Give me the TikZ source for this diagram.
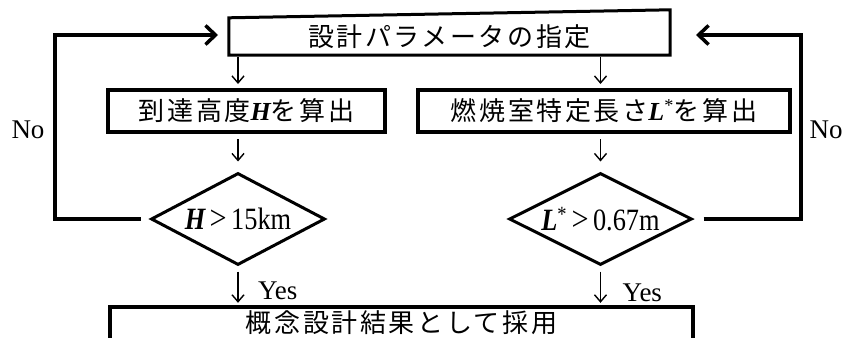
\documentclass[tikz,border=0pt]{standalone}
\usepackage{fontspec}
\usepackage{graphicx}
\setmainfont{Liberation Serif}
\newfontfamily\jp[LetterSpace=10]{Noto Sans CJK JP}
\usetikzlibrary{arrows.meta,shapes.geometric,calc}
\newcommand{\gtsym}{\,\scalebox{1.15}[1.1]{>}\,}
\tikzset{
  lat/.style={font=\fontsize{27}{30}\selectfont},
  jpf/.style={font=\fontsize{26}{30}\selectfont\jp},
  thickbox/.style={draw,line width=4pt,inner sep=0pt},
  plainbox/.style={inner sep=0pt},
  dia/.style={diamond,draw,line width=3pt,inner sep=0pt,aspect=1.9,font=\fontsize{31}{33}\selectfont},
  sarr/.style={line width=1.4pt,-{Straight Barb[length=7pt,width=12pt,line width=1.4pt]}},
  big/.style={line width=3.5pt,-{Straight Barb[length=10pt,width=19pt,line width=3.5pt]}},
}
\begin{document}
\begin{tikzpicture}[x=1pt,y=-1pt]
\useasboundingbox (0,0) rectangle (845,337);

% top box (slanted top edge)
\node[plainbox,jpf,minimum width=441pt,minimum height=37pt] (top) at (449.5,36.5) {設計パラメータの指定};
\draw[line width=3pt,line join=miter] (top.south west) -- (top.north west) -- ([yshift=8pt]top.north east) -- (top.south east) -- cycle;

% process boxes
\node[thickbox,jpf,minimum width=277pt,minimum height=42pt] (b2) at (246.5,111) {到達高度{\rmfamily\bfseries\itshape H}を算出};
\node[thickbox,jpf,minimum width=372pt,minimum height=42pt] (b3) at (604,111) {燃焼室特定長さ{\rmfamily\bfseries\itshape L}{\rmfamily\textsuperscript{*}}を算出};

% decisions
\node[dia,minimum width=174pt,minimum height=92pt] (d1) at (238,219) {\scalebox{0.85}[1]{{\bfseries\itshape H}\gtsym 15km}};
\node[dia,minimum width=183pt,minimum height=92pt] (d2) at (600.5,219) {\scalebox{0.85}[1]{{\bfseries\itshape L}\textsuperscript{*}\gtsym 0.67m}};

% bottom box (open at the bottom)
\node[plainbox,jpf,minimum width=583pt,minimum height=32pt] (bot) at (401.5,323) {概念設計結果として採用};
\draw[line width=4pt] ([yshift=-10pt]bot.south west) -- (bot.north west) -- (bot.north east) -- ([yshift=-10pt]bot.south east);

% down arrows
\draw[sarr] ([yshift=-2pt]top.south -| d1.north) -- ([yshift=4pt]b2.north -| d1.north);
\draw[sarr] ([yshift=-2pt]top.south -| d2.north) -- ([yshift=4pt]b3.north -| d2.north);
\draw[sarr] ([yshift=-5pt]b2.south -| d1.north) -- ([yshift=10pt]d1.north);
\draw[sarr] ([yshift=-5pt]b3.south -| d2.north) -- ([yshift=10pt]d2.north);
\draw[sarr] ([yshift=-5pt]d1.south) -- ([yshift=4pt]bot.north -| d1.south);
\draw[sarr] ([yshift=-5pt]d2.south) -- ([yshift=4pt]bot.north -| d2.south);

% Yes labels
\node[lat,anchor=west,inner sep=0pt] (y1) at ($(d1.south)+(20,24)$) {Yes};
\node[lat,anchor=west,inner sep=0pt] (y2) at ($(d2.south)+(22,26)$) {Yes};

% No loops
\coordinate (cL) at (55,35);
\coordinate (tipL) at (218,35);
\coordinate (cR) at (801,35);
\coordinate (tipR) at (696,35);
\draw[big] ([xshift=-9pt]d1.west) -| (cL) -- (tipL);
\draw[big] ([xshift=10pt]d2.east) -| (cR) -- (tipR);

\node[lat,inner sep=0pt] (no1) at (28,130) {No};
\node[lat,inner sep=0pt] (no2) at (826,130) {No};
\end{tikzpicture}
\end{document}
